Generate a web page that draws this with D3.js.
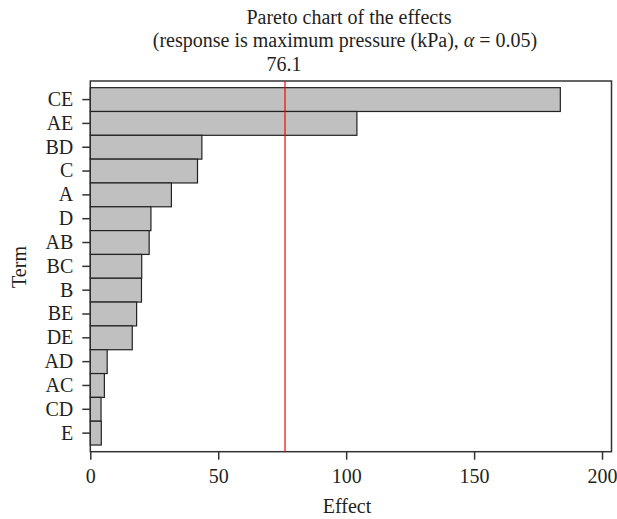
<!DOCTYPE html>
<html><head><meta charset="utf-8">
<script src="https://cdn.jsdelivr.net/npm/d3@7"></script>
<style>body{margin:0;background:#fff}svg{display:block}text{font-family:"Liberation Serif","Times New Roman",serif;fill:#231f20}</style>
</head><body>
<svg id="c" width="617" height="519"></svg>
<script>
const terms = ["CE","AE","BD","C","A","D","AB","BC","B","BE","DE","AD","AC","CD","E"];
const effects = [183.7,104.2,43.6,41.9,31.7,23.7,23.0,20.1,20.0,18.1,16.4,6.6,5.5,4.2,4.3];
const xTicks = [0,50,100,150,200];
const threshold = 76.1;
const titleLine1 = "Pareto chart of the effects";
const titleLine2 = ["(response is maximum pressure (kPa), ","\u03b1"," = 0.05)"];

const svg = d3.select("#c");
const L = 90.3, R = 611.5, T = 81, B = 451.7;
const FS = 20;
const x = d3.scaleLinear().domain([0,203.7]).range([L,R]);
const y = d3.scaleBand().domain(terms).range([T,B]).paddingInner(0).paddingOuter(0.28);

// frame
svg.append("rect").attr("x",L).attr("y",T).attr("width",R-L).attr("height",B-T)
  .attr("fill","none").attr("stroke","#333").attr("stroke-width",1.5);

// bars
svg.append("g").selectAll("rect").data(terms).join("rect")
  .attr("x",x(0)).attr("y",d=>y(d))
  .attr("width",(d,i)=>x(effects[i])-x(0)).attr("height",y.bandwidth())
  .attr("fill","#c0c0c0").attr("stroke","#222").attr("stroke-width",1.2);

// threshold line
svg.append("line").attr("x1",x(threshold)).attr("x2",x(threshold)).attr("y1",T).attr("y2",B)
  .attr("stroke","#ff0000").attr("stroke-width",1.2);
svg.append("text").attr("x",x(threshold)-1).attr("y",70.7).attr("text-anchor","middle")
  .attr("font-size",FS).text(threshold.toFixed(1));

// axes
const xa = svg.append("g").attr("transform",`translate(0,${B})`)
  .call(d3.axisBottom(x).tickValues(xTicks).tickSize(8).tickPadding(11).tickSizeOuter(0));
const ya = svg.append("g").attr("transform",`translate(${L},0)`)
  .call(d3.axisLeft(y).tickSize(8).tickPadding(9).tickSizeOuter(0));
[xa,ya].forEach(a=>{
  a.select(".domain").remove();
  a.selectAll("line").attr("stroke","#333").attr("stroke-width",1.5);
  a.selectAll("text").attr("font-size",FS).attr("font-family","Liberation Serif, serif").attr("fill","#231f20");
});
xa.selectAll("text").attr("dy","0.62em");

// titles
svg.append("text").attr("x",349).attr("y",24).attr("text-anchor","middle")
  .attr("font-size",FS).text(titleLine1);
const t2 = svg.append("text").attr("x",345).attr("y",46.7).attr("text-anchor","middle").attr("font-size",FS);
t2.selectAll("tspan").data(titleLine2).join("tspan")
  .attr("font-style",(d,i)=>i===1?"italic":null).text(d=>d);

svg.append("text").attr("x",347).attr("y",513).attr("text-anchor","middle")
  .attr("font-size",FS).text("Effect");
svg.append("text").attr("transform","translate(26,267) rotate(-90)").attr("text-anchor","middle")
  .attr("font-size",FS).text("Term");
</script>
</body></html>
